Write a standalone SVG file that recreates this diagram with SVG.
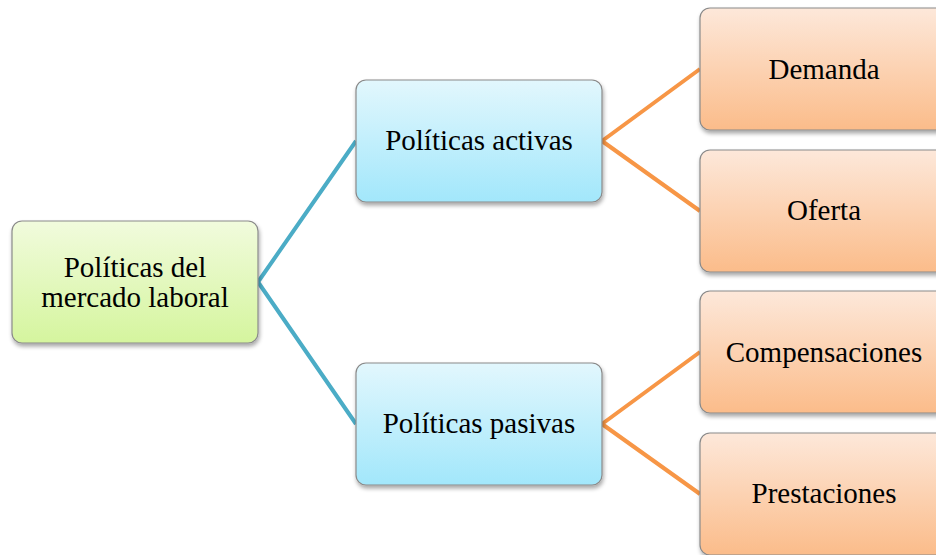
<svg xmlns="http://www.w3.org/2000/svg" width="936" height="555" viewBox="0 0 936 555">
<defs>
<linearGradient id="gG" x1="0" y1="0" x2="0" y2="1"><stop offset="0" stop-color="#f1fbdd"/><stop offset="1" stop-color="#d5f59e"/></linearGradient>
<linearGradient id="gB" x1="0" y1="0" x2="0" y2="1"><stop offset="0" stop-color="#e2f7fd"/><stop offset="1" stop-color="#a2e7fb"/></linearGradient>
<linearGradient id="gO" x1="0" y1="0" x2="0" y2="1"><stop offset="0" stop-color="#fde8da"/><stop offset="1" stop-color="#fbbc8a"/></linearGradient>
<filter id="sh" x="-10%" y="-10%" width="125%" height="130%"><feGaussianBlur in="SourceAlpha" stdDeviation="2"/><feOffset dx="1" dy="3"/><feComponentTransfer><feFuncA type="linear" slope="0.35"/></feComponentTransfer><feMerge><feMergeNode/><feMergeNode in="SourceGraphic"/></feMerge></filter>
</defs>
<style>
.box{stroke:#8a8a8a;stroke-width:1.2;filter:url(#sh)}
.t{font-family:"Liberation Serif","Times New Roman",serif;font-size:29px;fill:#000;text-anchor:middle}
.cb{stroke:#4bacc6;stroke-width:4;fill:none}
.co{stroke:#f79646;stroke-width:4;fill:none}
</style>
<g id="connectors">
<path class="cb" d="M258 282 L356 141 M258 282 L356 424"/>
<path class="co" d="M602 141 L700 69 M602 141 L700 211 M602 424 L700 352 M602 424 L700 494"/>
</g>
<g id="n-root"><rect class="box" x="12" y="221" width="246" height="122" rx="10" fill="url(#gG)"/><text class="t" x="135" y="277">Políticas del</text><text class="t" x="135" y="307">mercado laboral</text></g>
<g id="n-activas"><rect class="box" x="356" y="80" width="246" height="122" rx="10" fill="url(#gB)"/><text class="t" x="479" y="150">Políticas activas</text></g>
<g id="n-pasivas"><rect class="box" x="356" y="363" width="246" height="122" rx="10" fill="url(#gB)"/><text class="t" x="479" y="433">Políticas pasivas</text></g>
<g id="n-demanda"><rect class="box" x="700" y="8" width="250" height="122" rx="10" fill="url(#gO)"/><text class="t" x="824" y="79">Demanda</text></g>
<g id="n-oferta"><rect class="box" x="700" y="150" width="250" height="122" rx="10" fill="url(#gO)"/><text class="t" x="824" y="220">Oferta</text></g>
<g id="n-comp"><rect class="box" x="700" y="291" width="250" height="122" rx="10" fill="url(#gO)"/><text class="t" x="824" y="362">Compensaciones</text></g>
<g id="n-prest"><rect class="box" x="700" y="433" width="250" height="122" rx="10" fill="url(#gO)"/><text class="t" x="824" y="503">Prestaciones</text></g>
</svg>
